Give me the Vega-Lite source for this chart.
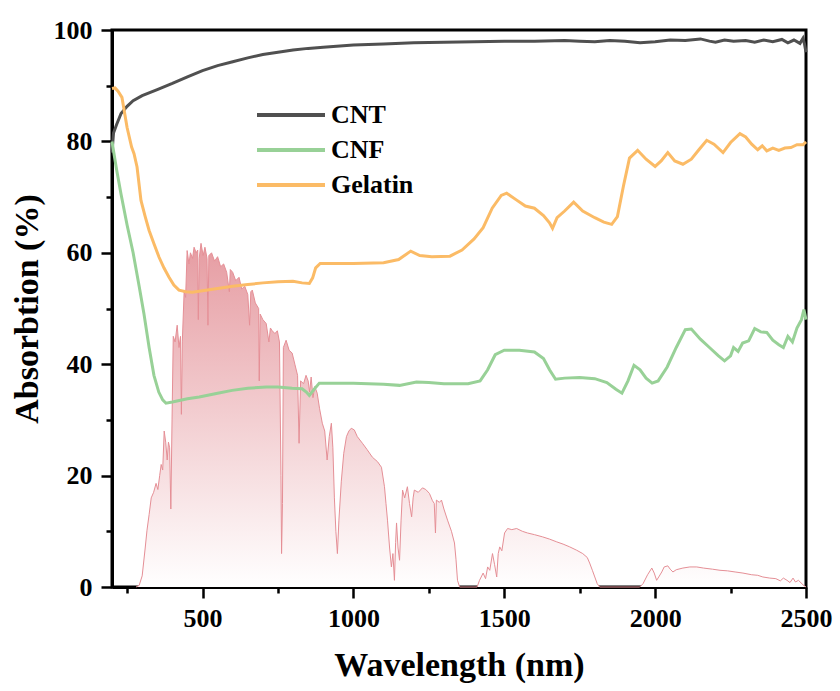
{
  "$schema": "https://vega.github.io/schema/vega-lite/v6.json",
  "width": 694,
  "height": 557,
  "autosize": {"type": "none"},
  "padding": {"left": 112, "top": 30, "right": 34, "bottom": 104},
  "background": "white",
  "config": {
    "view": {"stroke": "black", "strokeWidth": 3},
    "font": "Liberation Serif"
  },
  "datasets": {
    "sun": [
      {"x":280,"y":0},{"x":290,"y":0.3},{"x":300,"y":2},{"x":310,"y":7},{"x":316,"y":10.2},{"x":323,"y":13},{"x":330,"y":16},{"x":338,"y":17},{"x":346,"y":18.6},{"x":352,"y":17.5},{"x":358,"y":20},{"x":363,"y":22},{"x":368,"y":21},{"x":373,"y":28},{"x":378,"y":26},{"x":383,"y":22.8},{"x":387,"y":26},{"x":391,"y":25},{"x":395,"y":14},{"x":399,"y":30},{"x":403,"y":45},{"x":409,"y":44},{"x":416,"y":47},{"x":422,"y":43},{"x":427,"y":45},{"x":430,"y":31},{"x":433,"y":44},{"x":439,"y":53},{"x":444,"y":52},{"x":449,"y":60.4},{"x":455,"y":58},{"x":460,"y":60},{"x":467,"y":59},{"x":472,"y":61},{"x":479,"y":60},{"x":484,"y":60.5},{"x":486,"y":48},{"x":489,"y":59},{"x":495,"y":61.7},{"x":502,"y":59.5},{"x":508,"y":61},{"x":515,"y":59},{"x":518,"y":47},{"x":521,"y":59.5},{"x":530,"y":60},{"x":540,"y":58.5},{"x":550,"y":59.3},{"x":560,"y":57.5},{"x":570,"y":58},{"x":580,"y":56.5},{"x":589,"y":53},{"x":592,"y":57},{"x":600,"y":56.5},{"x":610,"y":55},{"x":621,"y":55.6},{"x":630,"y":53.5},{"x":640,"y":54},{"x":650,"y":52.5},{"x":656,"y":47},{"x":660,"y":53},{"x":665,"y":53.3},{"x":675,"y":51},{"x":686,"y":50},{"x":688,"y":37},{"x":691,"y":49},{"x":700,"y":48},{"x":711,"y":47.3},{"x":720,"y":44},{"x":725,"y":46.5},{"x":731,"y":46},{"x":740,"y":45.5},{"x":748,"y":46},{"x":755,"y":44},{"x":760,"y":20},{"x":762,"y":6},{"x":765,"y":15},{"x":768,"y":43},{"x":777,"y":44.3},{"x":787,"y":42.5},{"x":797,"y":42},{"x":806,"y":40},{"x":815,"y":38},{"x":820,"y":25.8},{"x":825,"y":37},{"x":835,"y":36.5},{"x":843,"y":38},{"x":850,"y":37},{"x":855,"y":35},{"x":860,"y":37.7},{"x":866,"y":34},{"x":872,"y":36},{"x":880,"y":34.8},{"x":888,"y":32},{"x":897,"y":29.4},{"x":905,"y":28},{"x":913,"y":22.8},{"x":920,"y":27},{"x":927,"y":29.4},{"x":932,"y":25},{"x":937,"y":16},{"x":942,"y":10},{"x":947,"y":6},{"x":952,"y":12},{"x":960,"y":19},{"x":968,"y":24},{"x":977,"y":27},{"x":985,"y":28},{"x":993,"y":28.5},{"x":1003,"y":28.2},{"x":1013,"y":27},{"x":1030,"y":25.8},{"x":1045,"y":24.7},{"x":1063,"y":23.3},{"x":1080,"y":22.5},{"x":1093,"y":21.5},{"x":1103,"y":18},{"x":1108,"y":15},{"x":1113,"y":12},{"x":1120,"y":7},{"x":1126,"y":3.6},{"x":1131,"y":6},{"x":1136,"y":1.2},{"x":1140,"y":8},{"x":1143,"y":11.5},{"x":1148,"y":7},{"x":1153,"y":4.8},{"x":1158,"y":12},{"x":1163,"y":17.4},{"x":1170,"y":16},{"x":1179,"y":18},{"x":1186,"y":15},{"x":1193,"y":12.6},{"x":1198,"y":16},{"x":1202,"y":17.4},{"x":1215,"y":17},{"x":1229,"y":17.8},{"x":1240,"y":17.5},{"x":1252,"y":16.8},{"x":1262,"y":15.5},{"x":1268,"y":15},{"x":1272,"y":9.7},{"x":1275,"y":15.6},{"x":1285,"y":15.2},{"x":1292,"y":15.6},{"x":1300,"y":14},{"x":1312,"y":12},{"x":1325,"y":10},{"x":1335,"y":7.9},{"x":1340,"y":5},{"x":1345,"y":1.2},{"x":1352,"y":0},{"x":1410,"y":0},{"x":1418,"y":1.2},{"x":1430,"y":2.5},{"x":1438,"y":1.5},{"x":1445,"y":3.6},{"x":1452,"y":3},{"x":1461,"y":6},{"x":1468,"y":4},{"x":1475,"y":1.8},{"x":1480,"y":6},{"x":1485,"y":7.2},{"x":1492,"y":6.5},{"x":1501,"y":9.7},{"x":1511,"y":10.5},{"x":1525,"y":10.3},{"x":1541,"y":10.5},{"x":1560,"y":10},{"x":1577,"y":9.7},{"x":1600,"y":9.4},{"x":1627,"y":9},{"x":1650,"y":8.6},{"x":1674,"y":8.1},{"x":1695,"y":7.7},{"x":1717,"y":7.2},{"x":1740,"y":6.6},{"x":1760,"y":6},{"x":1775,"y":5.3},{"x":1783,"y":4.3},{"x":1792,"y":3},{"x":1800,"y":1.8},{"x":1808,"y":0.6},{"x":1816,"y":0},{"x":1949,"y":0},{"x":1960,"y":0.6},{"x":1975,"y":2.2},{"x":1989,"y":3.4},{"x":1997,"y":2.5},{"x":2005,"y":1.2},{"x":2012,"y":1.8},{"x":2022,"y":2.7},{"x":2030,"y":3.6},{"x":2042,"y":3.8},{"x":2050,"y":3.2},{"x":2059,"y":2.7},{"x":2070,"y":3.1},{"x":2092,"y":3.4},{"x":2115,"y":3.6},{"x":2138,"y":3.6},{"x":2160,"y":3.4},{"x":2190,"y":3.2},{"x":2215,"y":3.0},{"x":2240,"y":2.9},{"x":2265,"y":2.7},{"x":2291,"y":2.5},{"x":2320,"y":2.2},{"x":2340,"y":2.1},{"x":2357,"y":1.8},{"x":2380,"y":1.6},{"x":2400,"y":1.5},{"x":2415,"y":1.1},{"x":2425,"y":1.6},{"x":2437,"y":1.2},{"x":2447,"y":0.8},{"x":2457,"y":1.6},{"x":2465,"y":0.9},{"x":2475,"y":1.2},{"x":2490,"y":0.4},{"x":2500,"y":0}
    ],
    "curves": [
      {"s":"CNT","x":200,"y":78},{"s":"CNT","x":205,"y":81.5},{"s":"CNT","x":215,"y":83},{"s":"CNT","x":230,"y":85},{"s":"CNT","x":250,"y":86.3},{"s":"CNT","x":270,"y":87.3},{"s":"CNT","x":300,"y":88.2},{"s":"CNT","x":350,"y":89.3},{"s":"CNT","x":400,"y":90.4},{"s":"CNT","x":450,"y":91.6},{"s":"CNT","x":500,"y":92.7},{"s":"CNT","x":550,"y":93.6},{"s":"CNT","x":600,"y":94.3},{"s":"CNT","x":650,"y":95},{"s":"CNT","x":700,"y":95.6},{"s":"CNT","x":750,"y":96},{"s":"CNT","x":800,"y":96.4},{"s":"CNT","x":850,"y":96.7},{"s":"CNT","x":900,"y":96.9},{"s":"CNT","x":1000,"y":97.3},{"s":"CNT","x":1100,"y":97.5},{"s":"CNT","x":1200,"y":97.7},{"s":"CNT","x":1300,"y":97.8},{"s":"CNT","x":1400,"y":97.9},{"s":"CNT","x":1500,"y":98},{"s":"CNT","x":1600,"y":98},{"s":"CNT","x":1700,"y":98.1},{"s":"CNT","x":1750,"y":98},{"s":"CNT","x":1800,"y":97.9},{"s":"CNT","x":1850,"y":98.1},{"s":"CNT","x":1900,"y":98},{"s":"CNT","x":1950,"y":97.7},{"s":"CNT","x":2000,"y":97.9},{"s":"CNT","x":2050,"y":98.2},{"s":"CNT","x":2100,"y":98.1},{"s":"CNT","x":2150,"y":98.4},{"s":"CNT","x":2180,"y":98},{"s":"CNT","x":2200,"y":97.8},{"s":"CNT","x":2230,"y":98.2},{"s":"CNT","x":2260,"y":98},{"s":"CNT","x":2300,"y":98.1},{"s":"CNT","x":2330,"y":97.8},{"s":"CNT","x":2360,"y":98.2},{"s":"CNT","x":2390,"y":97.9},{"s":"CNT","x":2420,"y":98.3},{"s":"CNT","x":2440,"y":97.7},{"s":"CNT","x":2460,"y":98.2},{"s":"CNT","x":2480,"y":97.6},{"s":"CNT","x":2490,"y":98.5},{"s":"CNT","x":2495,"y":97.5},{"s":"CNT","x":2500,"y":96},
      {"s":"CNF","x":200,"y":80},{"s":"CNF","x":215,"y":75},{"s":"CNF","x":230,"y":70.5},{"s":"CNF","x":250,"y":65},{"s":"CNF","x":270,"y":60},{"s":"CNF","x":290,"y":54},{"s":"CNF","x":306,"y":49},{"s":"CNF","x":323,"y":43},{"s":"CNF","x":339,"y":38},{"s":"CNF","x":355,"y":35},{"s":"CNF","x":368,"y":33.6},{"s":"CNF","x":379,"y":33},{"s":"CNF","x":400,"y":33.2},{"s":"CNF","x":450,"y":33.8},{"s":"CNF","x":489,"y":34.1},{"s":"CNF","x":550,"y":34.8},{"s":"CNF","x":598,"y":35.3},{"s":"CNF","x":650,"y":35.7},{"s":"CNF","x":711,"y":35.9},{"s":"CNF","x":750,"y":35.9},{"s":"CNF","x":797,"y":35.7},{"s":"CNF","x":830,"y":35.6},{"s":"CNF","x":844,"y":35},{"s":"CNF","x":854,"y":34.4},{"s":"CNF","x":870,"y":35.5},{"s":"CNF","x":887,"y":36.6},{"s":"CNF","x":1000,"y":36.6},{"s":"CNF","x":1100,"y":36.4},{"s":"CNF","x":1153,"y":36.2},{"s":"CNF","x":1209,"y":36.8},{"s":"CNF","x":1250,"y":36.7},{"s":"CNF","x":1300,"y":36.5},{"s":"CNF","x":1380,"y":36.5},{"s":"CNF","x":1420,"y":37},{"s":"CNF","x":1445,"y":39},{"s":"CNF","x":1470,"y":41.7},{"s":"CNF","x":1500,"y":42.5},{"s":"CNF","x":1550,"y":42.5},{"s":"CNF","x":1600,"y":42.2},{"s":"CNF","x":1630,"y":41},{"s":"CNF","x":1650,"y":39},{"s":"CNF","x":1670,"y":37.3},{"s":"CNF","x":1700,"y":37.5},{"s":"CNF","x":1750,"y":37.6},{"s":"CNF","x":1800,"y":37.4},{"s":"CNF","x":1840,"y":36.7},{"s":"CNF","x":1870,"y":35.5},{"s":"CNF","x":1890,"y":34.8},{"s":"CNF","x":1910,"y":37},{"s":"CNF","x":1930,"y":39.8},{"s":"CNF","x":1950,"y":39},{"s":"CNF","x":1970,"y":37.5},{"s":"CNF","x":1990,"y":36.6},{"s":"CNF","x":2010,"y":37},{"s":"CNF","x":2040,"y":39.5},{"s":"CNF","x":2070,"y":43},{"s":"CNF","x":2100,"y":46.2},{"s":"CNF","x":2120,"y":46.3},{"s":"CNF","x":2150,"y":44.5},{"s":"CNF","x":2180,"y":43},{"s":"CNF","x":2210,"y":41.5},{"s":"CNF","x":2230,"y":40.6},{"s":"CNF","x":2250,"y":41.5},{"s":"CNF","x":2260,"y":43},{"s":"CNF","x":2275,"y":42.3},{"s":"CNF","x":2290,"y":43.8},{"s":"CNF","x":2310,"y":44.2},{"s":"CNF","x":2330,"y":46.4},{"s":"CNF","x":2350,"y":45.8},{"s":"CNF","x":2370,"y":45.7},{"s":"CNF","x":2390,"y":44.3},{"s":"CNF","x":2410,"y":43.5},{"s":"CNF","x":2425,"y":43},{"s":"CNF","x":2440,"y":45},{"s":"CNF","x":2455,"y":44},{"s":"CNF","x":2470,"y":46.5},{"s":"CNF","x":2485,"y":48},{"s":"CNF","x":2493,"y":49.8},{"s":"CNF","x":2500,"y":48},
      {"s":"Gelatin","x":200,"y":89.5},{"s":"Gelatin","x":210,"y":89.6},{"s":"Gelatin","x":220,"y":89},{"s":"Gelatin","x":233,"y":87.9},{"s":"Gelatin","x":250,"y":82.5},{"s":"Gelatin","x":265,"y":79},{"s":"Gelatin","x":273,"y":77.8},{"s":"Gelatin","x":283,"y":75.4},{"s":"Gelatin","x":296,"y":69.4},{"s":"Gelatin","x":310,"y":66.5},{"s":"Gelatin","x":323,"y":64},{"s":"Gelatin","x":340,"y":61.5},{"s":"Gelatin","x":356,"y":59.2},{"s":"Gelatin","x":372,"y":57.3},{"s":"Gelatin","x":389,"y":55.6},{"s":"Gelatin","x":405,"y":54.2},{"s":"Gelatin","x":422,"y":53.3},{"s":"Gelatin","x":445,"y":53},{"s":"Gelatin","x":466,"y":52.9},{"s":"Gelatin","x":500,"y":53.2},{"s":"Gelatin","x":550,"y":53.6},{"s":"Gelatin","x":600,"y":54},{"s":"Gelatin","x":650,"y":54.3},{"s":"Gelatin","x":700,"y":54.6},{"s":"Gelatin","x":750,"y":54.8},{"s":"Gelatin","x":800,"y":54.9},{"s":"Gelatin","x":830,"y":54.6},{"s":"Gelatin","x":854,"y":54.5},{"s":"Gelatin","x":865,"y":55.5},{"s":"Gelatin","x":875,"y":57.3},{"s":"Gelatin","x":890,"y":58.1},{"s":"Gelatin","x":1000,"y":58.1},{"s":"Gelatin","x":1100,"y":58.2},{"s":"Gelatin","x":1150,"y":58.8},{"s":"Gelatin","x":1190,"y":60.3},{"s":"Gelatin","x":1220,"y":59.5},{"s":"Gelatin","x":1260,"y":59.3},{"s":"Gelatin","x":1320,"y":59.4},{"s":"Gelatin","x":1360,"y":60.5},{"s":"Gelatin","x":1400,"y":62.5},{"s":"Gelatin","x":1430,"y":64.5},{"s":"Gelatin","x":1460,"y":68},{"s":"Gelatin","x":1490,"y":70.3},{"s":"Gelatin","x":1508,"y":70.7},{"s":"Gelatin","x":1540,"y":69.5},{"s":"Gelatin","x":1570,"y":68.4},{"s":"Gelatin","x":1600,"y":68},{"s":"Gelatin","x":1630,"y":66.7},{"s":"Gelatin","x":1650,"y":65.4},{"s":"Gelatin","x":1660,"y":64.4},{"s":"Gelatin","x":1675,"y":66.3},{"s":"Gelatin","x":1700,"y":67.5},{"s":"Gelatin","x":1730,"y":69.1},{"s":"Gelatin","x":1760,"y":67.5},{"s":"Gelatin","x":1800,"y":66.3},{"s":"Gelatin","x":1830,"y":65.5},{"s":"Gelatin","x":1856,"y":65.1},{"s":"Gelatin","x":1875,"y":66.5},{"s":"Gelatin","x":1895,"y":72},{"s":"Gelatin","x":1915,"y":77},{"s":"Gelatin","x":1942,"y":78.4},{"s":"Gelatin","x":1970,"y":76.8},{"s":"Gelatin","x":2000,"y":75.5},{"s":"Gelatin","x":2020,"y":76.5},{"s":"Gelatin","x":2042,"y":78},{"s":"Gelatin","x":2065,"y":76.5},{"s":"Gelatin","x":2092,"y":75.9},{"s":"Gelatin","x":2120,"y":76.8},{"s":"Gelatin","x":2145,"y":78.5},{"s":"Gelatin","x":2171,"y":80.2},{"s":"Gelatin","x":2195,"y":79.5},{"s":"Gelatin","x":2225,"y":78},{"s":"Gelatin","x":2250,"y":79.8},{"s":"Gelatin","x":2281,"y":81.4},{"s":"Gelatin","x":2300,"y":80.8},{"s":"Gelatin","x":2320,"y":79.5},{"s":"Gelatin","x":2340,"y":78.5},{"s":"Gelatin","x":2355,"y":79.2},{"s":"Gelatin","x":2370,"y":78.3},{"s":"Gelatin","x":2390,"y":78.8},{"s":"Gelatin","x":2410,"y":78.4},{"s":"Gelatin","x":2430,"y":78.8},{"s":"Gelatin","x":2450,"y":78.9},{"s":"Gelatin","x":2470,"y":79.4},{"s":"Gelatin","x":2490,"y":79.4},{"s":"Gelatin","x":2500,"y":79.9}
    ]
  },
  "encoding": {
    "x": {
      "field": "x", "type": "quantitative",
      "scale": {"domain": [200, 2500], "nice": false, "zero": false},
      "axis": {
        "title": "Wavelength (nm)",
        "values": [250, 500, 750, 1000, 1250, 1500, 1750, 2000, 2250, 2500],
        "labelExpr": "datum.value % 500 === 0 ? format(datum.value, 'd') : ''",
        "grid": false,
        "domainColor": "black", "domainWidth": 3,
        "tickColor": "black", "tickWidth": 2.5,
        "tickSize": {"condition": {"test": "datum.value % 500 !== 0", "value": 6}, "value": 11},
        "labelFont": "Liberation Serif", "labelFontWeight": "bold", "labelFontSize": 26, "labelColor": "black",
        "labelPadding": 7, "labelFlush": false, "labelOverlap": false,
        "titleFont": "Liberation Serif", "titleFontWeight": "bold", "titleFontSize": 34, "titleColor": "black",
        "titlePadding": 17
      }
    },
    "y": {
      "field": "y", "type": "quantitative",
      "scale": {"domain": [0, 100], "nice": false},
      "axis": {
        "title": "Absorbtion (%)",
        "values": [0, 10, 20, 30, 40, 50, 60, 70, 80, 90, 100],
        "labelExpr": "datum.value % 20 === 0 ? format(datum.value, 'd') : ''",
        "grid": false,
        "domainColor": "black", "domainWidth": 3,
        "tickColor": "black", "tickWidth": 2.5,
        "tickSize": {"condition": {"test": "datum.value % 20 !== 0", "value": 6}, "value": 11},
        "labelFont": "Liberation Serif", "labelFontWeight": "bold", "labelFontSize": 26, "labelColor": "black",
        "labelPadding": 9, "labelFlush": false, "labelOverlap": false,
        "titleFont": "Liberation Serif", "titleFontWeight": "bold", "titleFontSize": 34, "titleColor": "black",
        "titlePadding": 9
      }
    }
  },
  "layer": [
    {
      "data": {"name": "sun"},
      "mark": {
        "type": "area",
        "color": {
          "gradient": "linear", "x1": 0, "y1": 0, "x2": 0, "y2": 1,
          "stops": [{"offset": 0, "color": "#e69ca2"}, {"offset": 1, "color": "#ffffff"}]
        },
        "opacity": 1
      }
    },
    {
      "data": {"name": "sun"},
      "mark": {"type": "line", "color": "#e58f96", "strokeWidth": 1}
    },
    {
      "data": {"name": "curves"},
      "mark": {"type": "line", "strokeWidth": 3},
      "encoding": {
        "color": {
          "field": "s", "type": "nominal",
          "scale": {"domain": ["CNT", "CNF", "Gelatin"], "range": ["#505050", "#98d197", "#fbbb66"]},
          "legend": {
            "title": null,
            "orient": "none",
            "legendX": 143,
            "legendY": 66,
            "direction": "vertical",
            "symbolType": "M-1,0L3,0",
            "symbolSize": 1156,
            "symbolStrokeWidth": 4,
            "labelFont": "Liberation Serif", "labelFontWeight": "bold", "labelFontSize": 26, "labelColor": "black",
            "labelOffset": 38,
            "rowPadding": 3
          }
        }
      }
    }
  ]
}
